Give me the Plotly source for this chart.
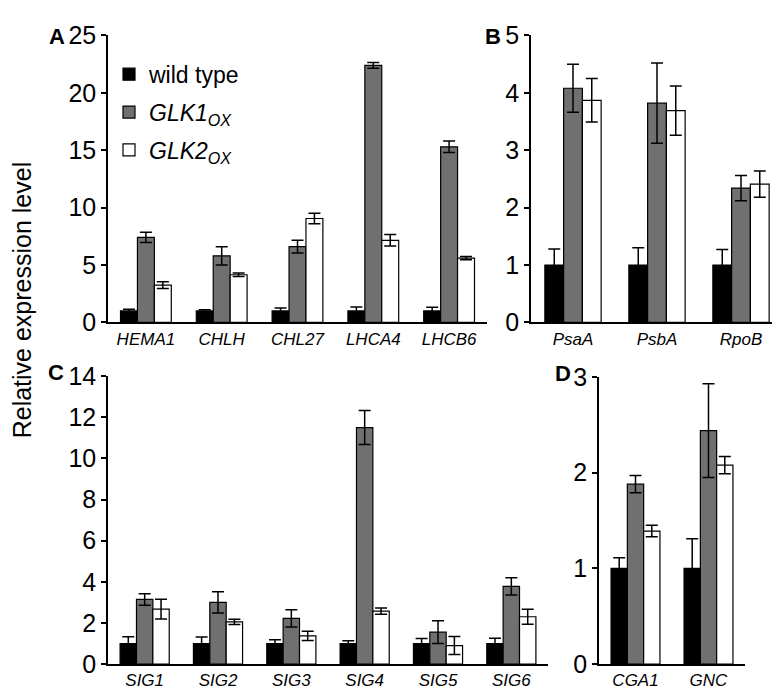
import plotly.graph_objects as go

# Panel A - nuclear photosynthesis genes
genes_a = ["HEMA1", "CHLH", "CHL27", "LHCA4", "LHCB6"]
wt_a = [1.0, 1.0, 1.0, 1.0, 1.0]
wt_a_err = [0.15, 0.1, 0.25, 0.35, 0.33]
glk1_a = [7.4, 5.8, 6.6, 22.4, 15.3]
glk1_a_err = [0.45, 0.8, 0.55, 0.25, 0.5]
glk2_a = [3.25, 4.15, 9.05, 7.15, 5.6]
glk2_a_err = [0.3, 0.15, 0.45, 0.5, 0.15]

# Panel B - plastid genes
genes_b = ["PsaA", "PsbA", "RpoB"]
wt_b = [1.0, 1.0, 1.0]
wt_b_err = [0.28, 0.3, 0.27]
glk1_b = [4.08, 3.82, 2.34]
glk1_b_err = [0.42, 0.7, 0.22]
glk2_b = [3.87, 3.69, 2.41]
glk2_b_err = [0.38, 0.43, 0.23]

# Panel C - sigma factors
genes_c = ["SIG1", "SIG2", "SIG3", "SIG4", "SIG5", "SIG6"]
wt_c = [1.0, 1.0, 1.0, 1.0, 1.0, 1.0]
wt_c_err = [0.33, 0.32, 0.18, 0.13, 0.24, 0.26]
glk1_c = [3.14, 3.0, 2.22, 11.5, 1.55, 3.78]
glk1_c_err = [0.28, 0.52, 0.42, 0.83, 0.55, 0.42]
glk2_c = [2.67, 2.05, 1.37, 2.57, 0.9, 2.3]
glk2_c_err = [0.48, 0.13, 0.23, 0.15, 0.44, 0.37]

# Panel D
genes_d = ["CGA1", "GNC"]
wt_d = [1.0, 1.0]
wt_d_err = [0.11, 0.31]
glk1_d = [1.88, 2.44]
glk1_d_err = [0.09, 0.49]
glk2_d = [1.39, 2.08]
glk2_d_err = [0.06, 0.09]

series_names = ["wild type", "<i>GLK1<sub>OX</sub></i>", "<i>GLK2<sub>OX</sub></i>"]
series_colors = ["#000000", "#707070", "#ffffff"]

W, H = 780, 695
FONT = "Liberation Sans, Arial, sans-serif"


def px_x(a, b):
    return [a / W, b / W]


def px_y(top, bottom):
    return [1 - bottom / H, 1 - top / H]


panels = [
    # genes, [(vals, errs)...], axis suffix, domain x, domain y, ymax, dtick
    (genes_a, [(wt_a, wt_a_err), (glk1_a, glk1_a_err), (glk2_a, glk2_a_err)], "", px_x(100, 479), px_y(14, 313), 25, 5),
    (genes_b, [(wt_b, wt_b_err), (glk1_b, glk1_b_err), (glk2_b, glk2_b_err)], "2", px_x(523, 775), px_y(14, 313), 5, 1),
    (genes_c, [(wt_c, wt_c_err), (glk1_c, glk1_c_err), (glk2_c, glk2_c_err)], "3", px_x(100, 540), px_y(369, 669), 14, 2),
    (genes_d, [(wt_d, wt_d_err), (glk1_d, glk1_d_err), (glk2_d, glk2_d_err)], "4", px_x(591, 737), px_y(370, 669), 3, 1),
]

fig = go.Figure()
layout_axes = {}

for p, (genes, data, ax, dx, dy, ymax, dtick) in enumerate(panels):
    for i, (vals, errs) in enumerate(data):
        fig.add_trace(go.Bar(
            x=genes,
            y=vals,
            error_y=dict(type="data", array=errs, color="#000000", thickness=1.5, width=6),
            marker=dict(color=series_colors[i], line=dict(color="#000000", width=1.2)),
            name=series_names[i],
            legendgroup=str(i),
            showlegend=(p == 0),
            xaxis="x" + ax,
            yaxis="y" + ax,
        ))
    layout_axes["xaxis" + ax] = dict(
        domain=dx, anchor="y" + ax, showline=True, linecolor="#000000", linewidth=1.5,
        ticks="", showgrid=False,
        tickfont=dict(family=FONT, size=17, color="#000000", style="italic"),
    )
    layout_axes["yaxis" + ax] = dict(
        domain=dy, anchor="x" + ax, range=[0, ymax], dtick=dtick, showline=True,
        linecolor="#000000", linewidth=1.5, ticks="outside", ticklen=5, tickwidth=1.5,
        tickcolor="#000000", showgrid=False, zeroline=False,
        tickfont=dict(family=FONT, size=25, color="#000000"),
    )

# panel letters
letters = [("A", 49, 15), ("B", 485, 15), ("C", 48, 365), ("D", 555, 366)]
annotations = [
    dict(text="<b>%s</b>" % t, x=lx / W, y=1 - ly / H, xref="paper", yref="paper",
         xanchor="center", yanchor="middle", showarrow=False,
         font=dict(family=FONT, size=22, color="#000000"))
    for t, lx, ly in letters
]
annotations.append(dict(
    text="Relative expression level", x=14 / W, y=1 - 290 / H, xref="paper", yref="paper",
    xanchor="center", yanchor="middle", textangle=-90, showarrow=False,
    font=dict(family=FONT, size=25, color="#000000"),
))

fig.update_layout(
    width=W,
    height=H,
    margin=dict(l=0, r=0, t=0, b=0),
    paper_bgcolor="#ffffff",
    plot_bgcolor="#ffffff",
    barmode="group",
    bargap=0.33,
    bargroupgap=0,
    annotations=annotations,
    legend=dict(
        x=101 / W, y=1 - 32 / H, xanchor="left", yanchor="top",
        font=dict(family=FONT, size=23, color="#000000"),
        bgcolor="rgba(0,0,0,0)", tracegroupgap=5, itemwidth=30,
    ),
    **layout_axes,
)

fig.write_html("out.html")
